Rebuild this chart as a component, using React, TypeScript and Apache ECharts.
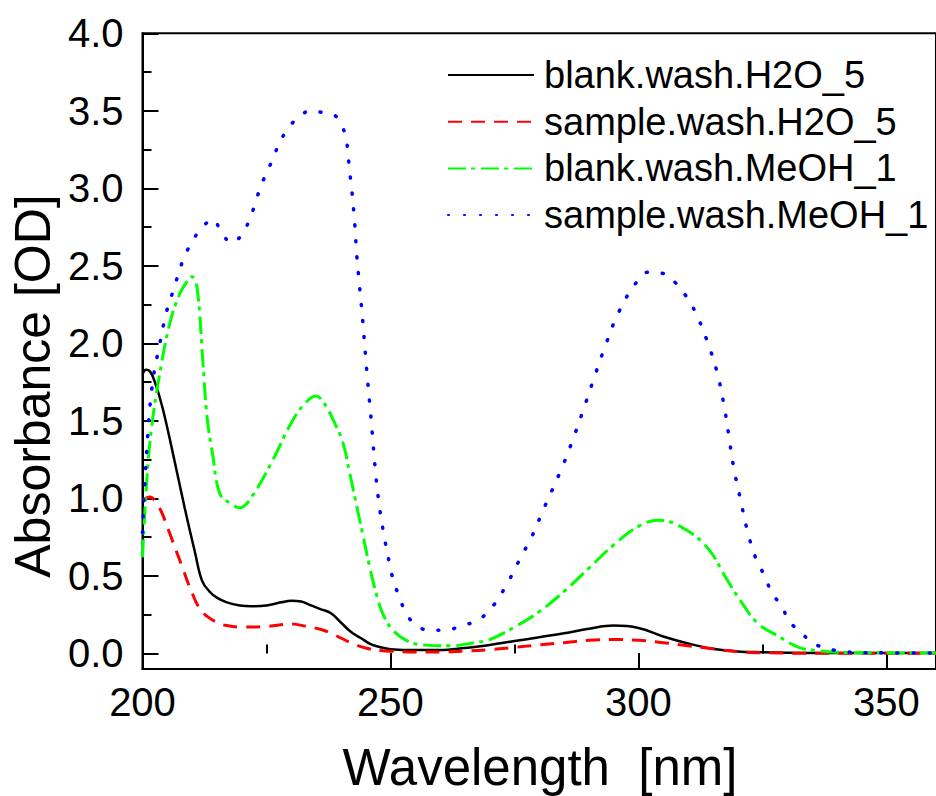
import React, { useEffect, useRef } from "react";
import * as echarts from "echarts";

// ---- data ----
const seriesNames = [
  "blank.wash.H2O_5",
  "sample.wash.H2O_5",
  "blank.wash.MeOH_1",
  "sample.wash.MeOH_1",
];

const blankH2OWl = [200, 200.7, 201.5, 202.5, 204, 206, 208.5, 210.6, 212, 213.5, 215, 217, 219.6, 222, 225, 228, 230, 232, 234, 236, 238, 240, 242, 244, 246, 248, 250, 255, 260, 265, 270, 275, 280, 285, 290, 295, 300, 305, 310, 315, 320, 325, 330, 340, 360];
const blankH2OAbs = [1.8, 1.83, 1.82, 1.75, 1.59, 1.31, 0.94, 0.65, 0.47, 0.4, 0.36, 0.33, 0.31, 0.305, 0.31, 0.33, 0.34, 0.335, 0.31, 0.285, 0.26, 0.2, 0.14, 0.1, 0.06, 0.04, 0.028, 0.022, 0.022, 0.035, 0.055, 0.08, 0.105, 0.13, 0.16, 0.18, 0.165, 0.11, 0.065, 0.03, 0.013, 0.008, 0.005, 0.003, 0.003];

const sampleH2OWl = [200, 201.5, 203, 204, 206, 208, 210, 212, 215, 217, 219.6, 225, 230, 233, 236, 238, 240, 242, 245, 248, 250, 255, 260, 265, 270, 275, 280, 285, 290, 295, 300, 305, 310, 315, 320, 325, 335, 360];
const sampleH2OAbs = [0.99, 1.01, 0.96, 0.9, 0.73, 0.56, 0.39, 0.27, 0.2, 0.18, 0.17, 0.175, 0.19, 0.175, 0.155, 0.13, 0.1, 0.07, 0.035, 0.02, 0.015, 0.01, 0.01, 0.015, 0.025, 0.04, 0.055, 0.07, 0.085, 0.09, 0.085, 0.07, 0.05, 0.03, 0.012, 0.005, 0.002, 0.002];

const blankMeOHWl = [200, 201, 202, 203.5, 205.5, 207.5, 209, 210, 211, 212.2, 213, 214.2, 215.6, 217.6, 219.6, 222, 226.3, 229.7, 232.4, 235, 236.5, 238.4, 240.4, 241.8, 242.8, 244.4, 245.8, 247.1, 248.4, 250.5, 253.8, 257.2, 262, 267, 270, 275, 280, 285, 290, 295, 300, 304, 309.5, 314.2, 317.6, 321, 324.2, 328.3, 332.3, 335.7, 340, 350, 360];
const blankMeOHAbs = [0.62, 1.18, 1.5, 1.81, 2.13, 2.32, 2.4, 2.43, 2.36, 1.87, 1.53, 1.27, 1.03, 0.97, 0.94, 1.01, 1.25, 1.47, 1.6, 1.66, 1.62, 1.51, 1.36, 1.16, 1.01, 0.77, 0.56, 0.39, 0.26, 0.15, 0.075, 0.054, 0.05, 0.07, 0.09, 0.17, 0.27, 0.4, 0.55, 0.7, 0.82, 0.86, 0.8, 0.67, 0.49, 0.32, 0.19, 0.11, 0.04, 0.02, 0.008, 0.004, 0.003];

const sampleMeOHWl = [200, 200.9, 202, 203.5, 204.9, 206.2, 208.2, 209.9, 211.6, 214.2, 216, 218, 220, 221.6, 222.6, 223.7, 225, 226.3, 227.3, 229, 231.5, 234, 236.2, 238.3, 240.1, 241.1, 241.5, 241.8, 242.2, 242.8, 243.2, 243.8, 244.4, 245.2, 246.1, 246.9, 247.6, 248.6, 249.8, 250.6, 251.6, 253, 254.6, 257.7, 261.2, 264.3, 267.3, 270, 273, 276.6, 278.3, 281, 284.6, 287, 289.4, 291.4, 293.5, 296, 299.5, 302.1, 305.1, 307.5, 309.5, 311.5, 313.8, 315.8, 317.2, 318.2, 319.2, 320.6, 321.9, 323.6, 325.6, 326.9, 329, 330.3, 332.7, 335, 338.4, 342, 350, 360];
const sampleMeOHAbs = [0.78, 1.33, 1.74, 2.0, 2.21, 2.34, 2.54, 2.65, 2.73, 2.8, 2.71, 2.65, 2.7, 2.8, 2.89, 3.0, 3.1, 3.19, 3.27, 3.37, 3.46, 3.5, 3.49, 3.48, 3.41, 3.31, 3.2, 3.1, 2.99, 2.77, 2.57, 2.36, 2.15, 1.83, 1.51, 1.2, 0.99, 0.78, 0.58, 0.47, 0.38, 0.27, 0.2, 0.15, 0.15, 0.18, 0.21, 0.28, 0.42, 0.64, 0.74, 0.94, 1.2, 1.4, 1.62, 1.81, 2.0, 2.2, 2.39, 2.46, 2.45, 2.39, 2.31, 2.2, 2.02, 1.82, 1.61, 1.41, 1.2, 0.99, 0.8, 0.62, 0.49, 0.39, 0.3, 0.21, 0.14, 0.07, 0.03, 0.01, 0.004, 0.003];

const xMajorTicks = [200, 250, 300, 350];
const xMinorTicks = [225, 275, 325];
const yMajorTicks = [0, 0.5, 1, 1.5, 2, 2.5, 3, 3.5, 4];
const yMinorTicks = [0.25, 0.75, 1.25, 1.75, 2.25, 2.75, 3.25, 3.75];

const xTitle = "Wavelength  [nm]";
const yTitle = "Absorbance [OD]";

const FONT = "'Liberation Sans', Arial, Helvetica, sans-serif";

const zip = (xs: number[], ys: number[]) => xs.map((x, i) => [x, ys[i]]);

export default function App() {
  const ref = useRef<HTMLDivElement>(null);

  useEffect(() => {
    if (!ref.current) return;
    const chart = echarts.init(ref.current, undefined, { renderer: "svg" });

    const lineCommon = {
      type: "line",
      showSymbol: false,
      symbol: "none",
      smooth: 0.4,
      xAxisIndex: 0,
      yAxisIndex: 0,
    };

    chart.setOption({
      animation: false,
      backgroundColor: "#fff",
      grid: {
        left: 142.5,
        top: 33.3,
        right: -0.5,
        bottom: 127,
        show: true,
        borderColor: "#000",
        borderWidth: 2,
        containLabel: false,
      },
      legend: {
        orient: "vertical",
        left: 447,
        top: 56,
        padding: 0,
        itemWidth: 86,
        itemHeight: 1,
        itemGap: 8.7,
        data: seriesNames,
        itemStyle: { opacity: 0 },
        textStyle: {
          fontSize: 38,
          fontFamily: FONT,
          color: "#000",
          lineHeight: 38,
          padding: [0, 0, 0, 5],
        },
      },
      xAxis: [
        {
          type: "value",
          min: 200,
          max: 360,
          position: "bottom",
          axisLine: { show: true, onZero: false, lineStyle: { color: "#000", width: 2 } },
          axisTick: { show: true, inside: true, length: 16, customValues: xMajorTicks, lineStyle: { color: "#000", width: 2 } },
          axisLabel: {
            customValues: xMajorTicks,
            fontSize: 40,
            fontFamily: FONT,
            color: "#000",
            margin: 13,
            formatter: (v: number) => String(v),
          },
          splitLine: { show: false },
        },
        {
          type: "value",
          min: 200,
          max: 360,
          position: "bottom",
          axisLine: { show: false },
          axisTick: { show: true, inside: true, length: 9, customValues: xMinorTicks, lineStyle: { color: "#000", width: 2 } },
          axisLabel: { show: false },
          splitLine: { show: false },
        },
      ],
      yAxis: [
        {
          type: "value",
          min: -0.1,
          max: 4,
          position: "left",
          axisLine: { show: true, onZero: false, lineStyle: { color: "#000", width: 2 } },
          axisTick: { show: true, inside: true, length: 16, customValues: yMajorTicks, lineStyle: { color: "#000", width: 2 } },
          axisLabel: {
            customValues: yMajorTicks,
            fontSize: 40,
            fontFamily: FONT,
            color: "#000",
            margin: 19,
            formatter: (v: number) => v.toFixed(1),
          },
          splitLine: { show: false },
        },
        {
          type: "value",
          min: -0.1,
          max: 4,
          position: "left",
          axisLine: { show: false },
          axisTick: { show: true, inside: true, length: 9, customValues: yMinorTicks, lineStyle: { color: "#000", width: 2 } },
          axisLabel: { show: false },
          splitLine: { show: false },
        },
      ],
      graphic: [
        {
          type: "text",
          x: 540,
          y: 767,
          style: {
            text: xTitle,
            fontSize: 51,
            fontFamily: FONT,
            fill: "#000",
            align: "center",
            verticalAlign: "middle",
            textAlign: "center",
            textVerticalAlign: "middle",
          },
        },
        {
          type: "text",
          x: 33,
          y: 386,
          rotation: Math.PI / 2,
          style: {
            text: yTitle,
            fontSize: 50,
            fontFamily: FONT,
            fill: "#000",
            align: "center",
            verticalAlign: "middle",
            textAlign: "center",
            textVerticalAlign: "middle",
          },
        },
      ],
      series: [
        {
          ...lineCommon,
          name: seriesNames[0],
          data: zip(blankH2OWl, blankH2OAbs),
          itemStyle: { color: "#000000" },
          lineStyle: { color: "#000000", width: 2.5, type: "solid" },
        },
        {
          ...lineCommon,
          name: seriesNames[1],
          data: zip(sampleH2OWl, sampleH2OAbs),
          itemStyle: { color: "#ff0000" },
          lineStyle: { color: "#ff0000", width: 3, type: [14, 9] },
        },
        {
          ...lineCommon,
          name: seriesNames[2],
          data: zip(blankMeOHWl, blankMeOHAbs),
          itemStyle: { color: "#00ff00" },
          lineStyle: { color: "#00ff00", width: 3, type: [18, 5, 4, 6] },
        },
        {
          ...lineCommon,
          name: seriesNames[3],
          data: zip(sampleMeOHWl, sampleMeOHAbs),
          itemStyle: { color: "#0000ff" },
          lineStyle: { color: "#0000ff", width: 3.5, type: [1, 15], cap: "round" },
        },
      ],
    });

    return () => chart.dispose();
  }, []);

  return (
    <div
      ref={ref}
      style={{ position: "fixed", left: 0, top: 0, width: 936, height: 796, background: "#fff" }}
    />
  );
}
